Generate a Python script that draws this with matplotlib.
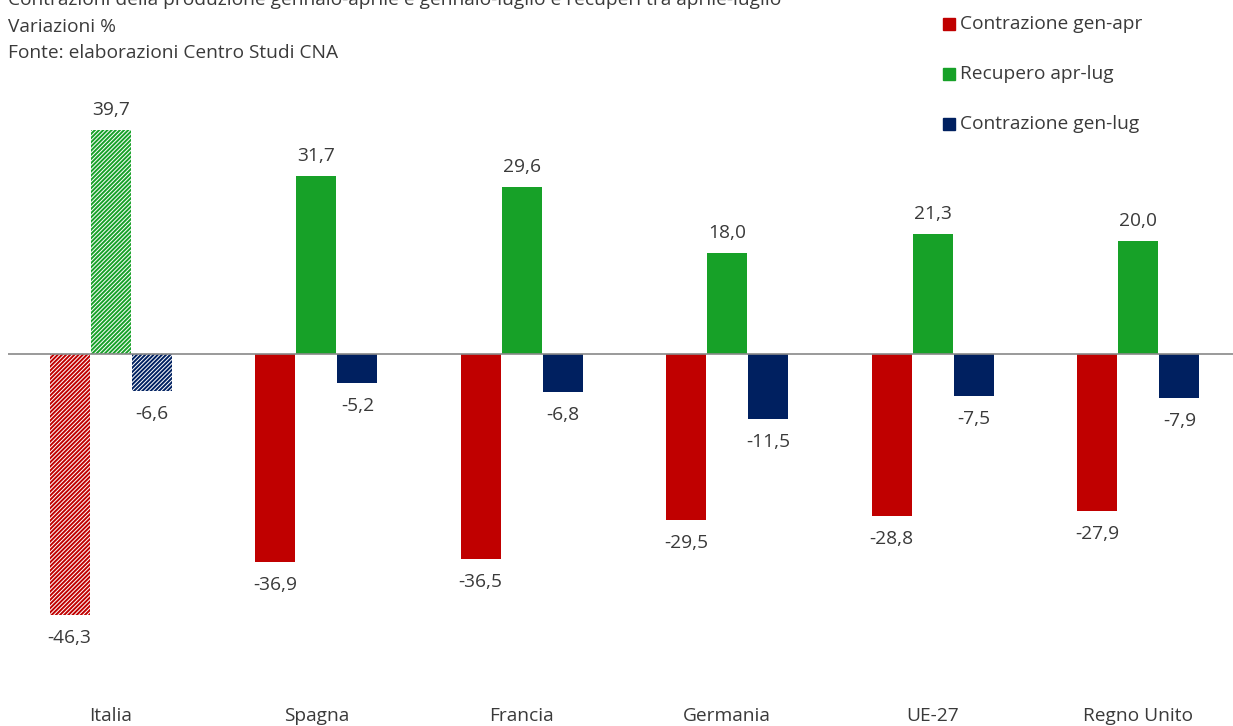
import matplotlib
matplotlib.use("Agg")
import matplotlib.pyplot as plt
import numpy as np

# data
paesi = ["Italia", "Spagna", "Francia", "Germania", "UE-27", "Regno Unito"]
contrazione_gen_apr = [-46.3, -36.9, -36.5, -29.5, -28.8, -27.9]
recupero_apr_lug = [39.7, 31.7, 29.6, 18.0, 21.3, 20.0]
contrazione_gen_lug = [-6.6, -5.2, -6.8, -11.5, -7.5, -7.9]

series = [
    ("Contrazione gen-apr", contrazione_gen_apr, "#C00000"),
    ("Recupero apr-lug", recupero_apr_lug, "#17A128"),
    ("Contrazione gen-lug", contrazione_gen_lug, "#002060"),
]

plt.rcParams["font.family"] = ["Open Sans", "DejaVu Sans"]
plt.rcParams["hatch.linewidth"] = 1.4
TXT = "#3A3A3A"
FS = 13.8

W, H = 1233, 726
fig = plt.figure(figsize=(W / 100, H / 100), dpi=100)

ymin, ymax = -60, 50
zero_px = 354
px_per_unit = 5.63
top_px = zero_px - ymax * px_per_unit
bot_px = zero_px - ymin * px_per_unit
left_px, right_px = 8, 1241
ax = fig.add_axes([left_px / W, 1 - bot_px / H, (right_px - left_px) / W,
                   (bot_px - top_px) / H])
ax.set_xlim(-0.5, len(paesi) - 0.5)
ax.set_ylim(ymin, ymax)

x = np.arange(len(paesi))
bw = 0.195
gap = 0.005
for i, (name, vals, col) in enumerate(series):
    xs = x + (i - 1) * (bw + gap)
    bars = ax.bar(xs, vals, width=bw, color=col, label=name, zorder=2)
    # Italia is drawn with hatching
    bars[0].set_facecolor("white")
    bars[0].set_edgecolor(col)
    bars[0].set_hatch("////////")
    bars[0].set_linewidth(0)
    for xi, v in zip(xs, vals):
        off = 20 if v >= 0 else -23
        ax.annotate(f"{v:.1f}".replace(".", ","), (xi, v), xytext=(0, off),
                    textcoords="offset pixels", ha="center", va="center",
                    fontsize=FS, color=TXT)

ax.axhline(0, color="#898989", lw=1.2, zorder=3)
for s in ax.spines.values():
    s.set_visible(False)
ax.set_yticks([])
ax.set_xticks(x)
ax.set_xticklabels(paesi, fontsize=FS, color=TXT)
ax.tick_params(axis="x", length=0, pad=11)

# titles
fig.text(8 / W, 1 - 0 / H,
         "Contrazioni della produzione gennaio-aprile e gennaio-luglio e recuperi tra aprile-luglio",
         fontsize=FS, color=TXT, va="center", ha="left")
fig.text(8 / W, 1 - 27 / H, "Variazioni %", fontsize=FS, color=TXT,
         va="center", ha="left")
fig.text(8 / W, 1 - 53 / H, "Fonte: elaborazioni Centro Studi CNA", fontsize=FS,
         color=TXT, va="center", ha="left")

# legend
for i, (name, vals, col) in enumerate(series):
    yc = 1 - (24 + 50 * i) / H
    fig.patches.append(plt.Rectangle((943 / W, yc - 6 / H), 12 / W, 12 / H,
                                     transform=fig.transFigure, color=col,
                                     figure=fig))
    fig.text(960 / W, yc, name, fontsize=FS, color=TXT, va="center", ha="left")

fig.savefig("out.png", dpi=100, facecolor="white")
